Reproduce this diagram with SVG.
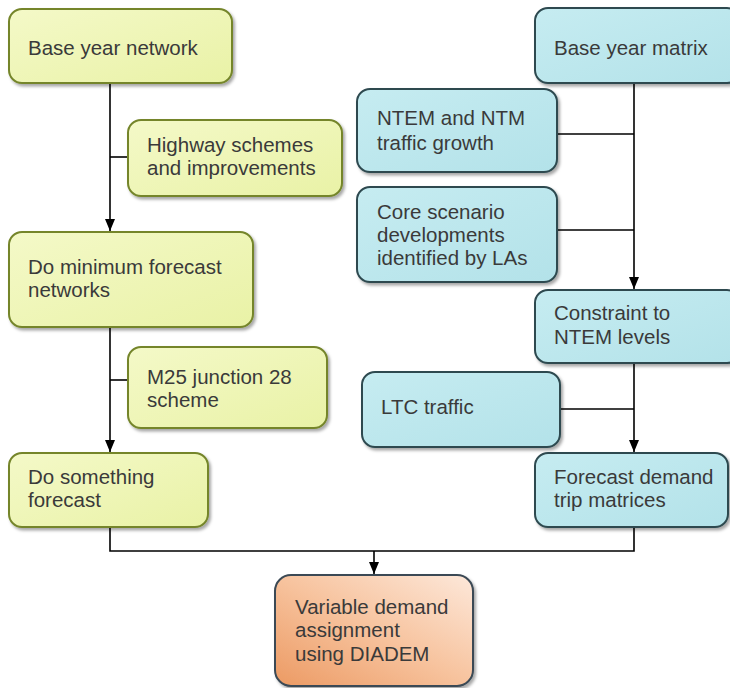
<svg xmlns="http://www.w3.org/2000/svg" width="730" height="688" viewBox="0 0 730 688">
<defs>
<linearGradient id="gy" x1="0" y1="0" x2="1" y2="1"><stop offset="0" stop-color="#f4f9c8"/><stop offset="1" stop-color="#e9f2a6"/></linearGradient>
<linearGradient id="gb" x1="0" y1="0" x2="1" y2="1"><stop offset="0" stop-color="#c6ecf1"/><stop offset="1" stop-color="#b3e2e9"/></linearGradient>
<linearGradient id="go" x1="1" y1="0" x2="0" y2="1"><stop offset="0" stop-color="#fde8da"/><stop offset="0.5" stop-color="#f7c39e"/><stop offset="1" stop-color="#ec9a63"/></linearGradient>
<filter id="sh" x="-10%" y="-10%" width="125%" height="130%"><feDropShadow dx="2" dy="2.5" stdDeviation="1.5" flood-color="#000" flood-opacity="0.35"/></filter>
<marker id="ah" viewBox="0 0 12 10" refX="12" refY="5" markerWidth="12" markerHeight="10" markerUnits="userSpaceOnUse" orient="auto">
<path d="M0,0 L12,5 L0,10 Z" fill="#000"/>
</marker>
</defs>
<style>
.y{fill:url(#gy);stroke:#74852a;stroke-width:2;filter:url(#sh)}
.b{fill:url(#gb);stroke:#2d4a50;stroke-width:2;filter:url(#sh)}
.o{fill:url(#go);stroke:#3b4a55;stroke-width:2;filter:url(#sh)}
text{font-family:"Liberation Sans",Arial,sans-serif;font-size:20.5px;fill:#3a3a3a}
.c{fill:none;stroke:#000;stroke-width:1.6}
</style>
<rect width="730" height="688" fill="#fff"/>
<g id="connectors">
<path class="c" d="M110,83 V231" marker-end="url(#ah)"/>
<path class="c" d="M128,157 H110"/>
<path class="c" d="M110,327 V452" marker-end="url(#ah)"/>
<path class="c" d="M128,380 H110"/>
<path class="c" d="M634,83 V289" marker-end="url(#ah)"/>
<path class="c" d="M557,134 H634"/>
<path class="c" d="M557,230 H634"/>
<path class="c" d="M634,363 V452" marker-end="url(#ah)"/>
<path class="c" d="M560,409 H634"/>
<path class="c" d="M110,527 V551 H634 V527"/>
<path class="c" d="M374,551 V574" marker-end="url(#ah)"/>
</g>
<g id="base_network"><rect class="y" x="9" y="9" width="223" height="74" rx="13"/><text x="28" y="55">Base year network</text></g>
<g id="highway_schemes"><rect class="y" x="128" y="120" width="214" height="76" rx="13"/><text x="147" y="152">Highway schemes</text><text x="147" y="175">and improvements</text></g>
<g id="do_minimum"><rect class="y" x="9" y="232" width="244" height="95" rx="13"/><text x="28" y="274">Do minimum forecast</text><text x="28" y="297">networks</text></g>
<g id="m25"><rect class="y" x="128" y="347" width="199" height="81" rx="13"/><text x="147" y="384">M25 junction 28</text><text x="147" y="407">scheme</text></g>
<g id="do_something"><rect class="y" x="9" y="453" width="199" height="74" rx="13"/><text x="28" y="484">Do something</text><text x="28" y="507">forecast</text></g>
<g id="base_matrix"><rect class="b" x="535" y="8" width="205" height="75" rx="13"/><text x="554" y="55">Base year matrix</text></g>
<g id="ntem_growth"><rect class="b" x="357" y="89" width="200" height="83" rx="13"/><text x="377" y="125">NTEM and NTM</text><text x="377" y="150">traffic growth</text></g>
<g id="core_scenario"><rect class="b" x="357" y="187" width="200" height="95" rx="13"/><text x="377" y="219">Core scenario</text><text x="377" y="242">developments</text><text x="377" y="265">identified by LAs</text></g>
<g id="constraint"><rect class="b" x="535" y="290" width="205" height="73" rx="13"/><text x="554" y="320">Constraint to</text><text x="554" y="344">NTEM levels</text></g>
<g id="ltc_traffic"><rect class="b" x="362" y="372" width="198" height="75" rx="13"/><text x="381" y="414">LTC traffic</text></g>
<g id="forecast_demand"><rect class="b" x="535" y="453" width="193" height="74" rx="13"/><text x="554" y="484">Forecast demand</text><text x="554" y="507">trip matrices</text></g>
<g id="diadem"><rect class="o" x="275" y="575" width="198" height="111" rx="16"/><text x="295" y="614">Variable demand</text><text x="295" y="637">assignment</text><text x="295" y="661">using DIADEM</text></g>
</svg>
